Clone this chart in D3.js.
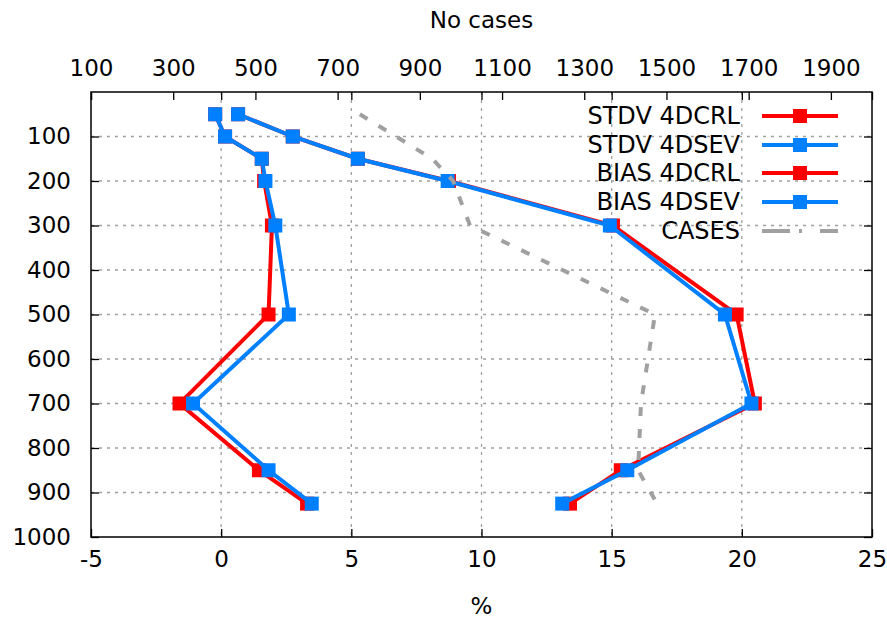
<!DOCTYPE html>
<html>
<head>
<meta charset="utf-8">
<script src="https://cdn.jsdelivr.net/npm/d3@7"></script>
<style>
  html, body { margin: 0; padding: 0; background: #fff; }
  svg { display: block; }
  text { font-family: "DejaVu Sans", sans-serif; fill: #000; }
</style>
</head>
<body>
<svg id="chart" width="887" height="618"></svg>
<script>
// ---- data ----
const levels = [50, 100, 150, 200, 300, 500, 700, 850, 925];
const stdv4dcrl = [0.65, 2.75, 5.25, 8.75, 15.05, 19.8, 20.5, 15.35, 13.4];
const stdv4dsev = [0.65, 2.75, 5.25, 8.7, 14.93, 19.35, 20.37, 15.6, 13.1];
const bias4dcrl = [-0.23, 0.15, 1.56, 1.65, 1.95, 1.82, -1.6, 1.45, 3.3];
const bias4dsev = [-0.23, 0.15, 1.56, 1.7, 2.08, 2.6, -1.08, 1.82, 3.48];
const cases = [754, 842, 930, 981, 1022, 1472, 1438, 1431, 1477];

const xTicks = [-5, 0, 5, 10, 15, 20, 25];
const x2Ticks = [100, 300, 500, 700, 900, 1100, 1300, 1500, 1700, 1900];
const yTicks = [100, 200, 300, 400, 500, 600, 700, 800, 900, 1000];
const seriesNames = ["STDV 4DCRL", "STDV 4DSEV", "BIAS 4DCRL", "BIAS 4DSEV", "CASES"];

// ---- layout ----
const L = 91, R = 872, T = 92, B = 537;
const RED = "#ff0000", BLUE = "#0080ff", GRAY = "#a0a0a0";

const svg = d3.select("#chart");
const x = d3.scaleLinear().domain([-5, 25]).range([L, R]);
const x2 = d3.scaleLinear().domain([100, 2000]).range([L, R]);
const y = d3.scaleLinear().domain([0, 1000]).range([T, B]);
const fmt = d => String(d);

// grid
const grid = svg.append("g");
grid.selectAll("line.v").data(xTicks.filter(d => d > -5 && d < 25)).join("line")
  .attr("x1", d => x(d)).attr("x2", d => x(d)).attr("y1", T).attr("y2", B)
  .attr("stroke", GRAY).attr("stroke-width", 1.3).attr("stroke-dasharray", "3,5");
grid.selectAll("line.h").data(yTicks.filter(d => d < 1000)).join("line")
  .attr("x1", L).attr("x2", R).attr("y1", d => y(d)).attr("y2", d => y(d))
  .attr("stroke", GRAY).attr("stroke-width", 1.3).attr("stroke-dasharray", "3,5");

// axes
const fs = "23px";
const tickLen = 8;
const axB = svg.append("g").attr("transform", `translate(0,${B})`)
  .call(d3.axisBottom(x).tickValues(xTicks).tickFormat(fmt).tickSizeInner(-tickLen).tickSizeOuter(0).tickPadding(14));
const axT = svg.append("g").attr("transform", `translate(0,${T})`)
  .call(d3.axisTop(x2).tickValues(x2Ticks).tickFormat(fmt).tickSizeInner(-tickLen).tickSizeOuter(0).tickPadding(16));
const axTm = svg.append("g").attr("transform", `translate(0,${T})`)
  .call(d3.axisTop(x).tickValues(xTicks).tickSizeInner(-tickLen).tickSizeOuter(0).tickFormat(""));
const axL = svg.append("g").attr("transform", `translate(${L},0)`)
  .call(d3.axisLeft(y).tickValues(yTicks).tickFormat(fmt).tickSizeInner(-tickLen).tickSizeOuter(0).tickPadding(20));
const axR = svg.append("g").attr("transform", `translate(${R},0)`)
  .call(d3.axisRight(y).tickValues(yTicks).tickSizeInner(-tickLen).tickSizeOuter(0).tickFormat(""));
[axB, axT, axTm, axL, axR].forEach(a => {
  a.select(".domain").remove();
  a.selectAll(".tick line").attr("stroke", "#000").attr("stroke-width", 1.3);
  a.selectAll(".tick text").style("font-size", fs).style("font-family", "DejaVu Sans");
});

// border
svg.append("rect").attr("x", L).attr("y", T).attr("width", R - L).attr("height", B - T)
  .attr("fill", "none").attr("stroke", "#000").attr("stroke-width", 1.5);

// axis titles
svg.append("text").attr("x", (L + R) / 2).attr("y", 28).attr("text-anchor", "middle")
  .style("font-size", fs).text("No cases");
svg.append("text").attr("x", (L + R) / 2).attr("y", 614).attr("text-anchor", "middle")
  .style("font-size", fs).text("%");

// series
const plot = svg.append("g");
function drawSeries(vals, color) {
  const pts = levels.map((lv, i) => [x(vals[i]), y(lv)]);
  plot.append("path").attr("d", d3.line()(pts)).attr("fill", "none")
    .attr("stroke", color).attr("stroke-width", 4).attr("stroke-linejoin", "miter");
  plot.selectAll(null).data(pts).join("rect")
    .attr("x", d => d[0] - 7).attr("y", d => d[1] - 7).attr("width", 14).attr("height", 14)
    .attr("fill", color);
}
drawSeries(stdv4dcrl, RED);
drawSeries(stdv4dsev, BLUE);
drawSeries(bias4dcrl, RED);
drawSeries(bias4dsev, BLUE);

const casePts = levels.map((lv, i) => [x2(cases[i]), y(lv)]);
plot.append("path").attr("d", d3.line()(casePts)).attr("fill", "none")
  .attr("stroke", GRAY).attr("stroke-width", 4).attr("stroke-dasharray", "9,13");

// legend
const legY = [116, 145, 173, 202, 231];
const legColors = [RED, BLUE, RED, BLUE, GRAY];
const leg = svg.append("g");
seriesNames.forEach((name, i) => {
  leg.append("text").attr("x", 740).attr("y", legY[i] + 8).attr("text-anchor", "end")
    .style("font-size", "24px").text(name);
  if (i < 4) {
    leg.append("line").attr("x1", 762).attr("x2", 838).attr("y1", legY[i]).attr("y2", legY[i])
      .attr("stroke", legColors[i]).attr("stroke-width", 4);
    leg.append("rect").attr("x", 793).attr("y", legY[i] - 7).attr("width", 14).attr("height", 14)
      .attr("fill", legColors[i]);
  } else {
    leg.append("line").attr("x1", 762).attr("x2", 838).attr("y1", legY[i]).attr("y2", legY[i])
      .attr("stroke", GRAY).attr("stroke-width", 4).attr("stroke-dasharray", "28,9,3,18,20");
  }
});
</script>
</body>
</html>
